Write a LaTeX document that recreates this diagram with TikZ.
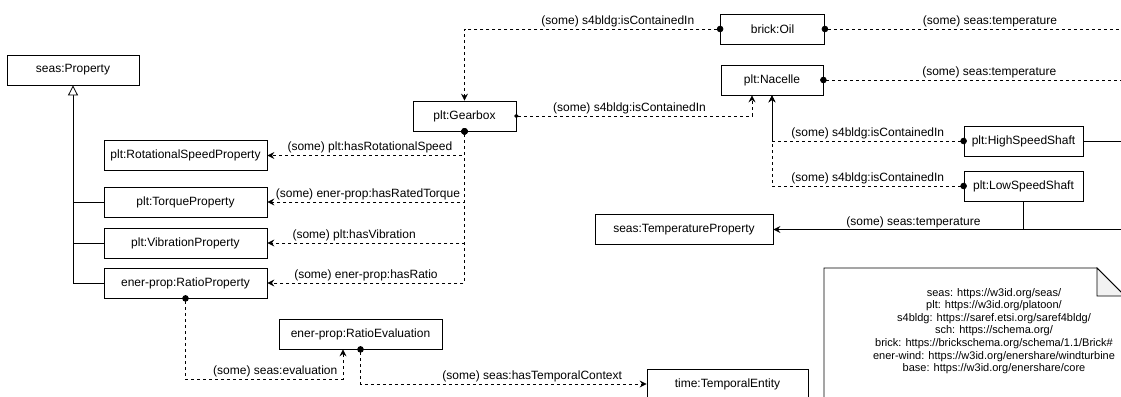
\documentclass[tikz,border=0pt]{standalone}
\usepackage{fontspec}
\setmainfont{Liberation Sans}
\usetikzlibrary{arrows.meta, calc}

\tikzset{
  cls/.style={draw, fill=white, line width=0.8pt, minimum height=30pt, inner sep=2pt},
  rel/.style={line width=0.8pt, dash pattern=on 3pt off 3pt,
    {Circle[length=6.5pt]}-{Stealth[length=7pt,width=7pt,inset=2.5pt]}, shorten <=-3.25pt},
  relout/.style={line width=0.8pt, dash pattern=on 3pt off 3pt,
    {Circle[length=6.5pt]}-, shorten <=-3.25pt},
  solidrel/.style={line width=0.8pt, -{Stealth[length=7pt,width=7pt,inset=2.5pt]}},
  isa/.style={line width=0.8pt, -{Triangle[open,length=10pt,width=10pt,fill=white]}},
  lbl/.style={above, inner sep=2pt},
}

\begin{document}
\begin{tikzpicture}[x=1pt, y=-1pt, font=\fontsize{12}{14}\selectfont]
  \useasboundingbox (0,0) rectangle (1121,396);

  % classes
  \node[cls, minimum width=132pt] (prop) at (73,70) {seas:Property};
  \node[cls, minimum width=163pt] (rsp) at (185.5,155.5) {plt:RotationalSpeedProperty};
  \node[cls, minimum width=163pt] (tqp) at (185.5,202) {plt:TorqueProperty};
  \node[cls, minimum width=163pt] (vbp) at (185.5,243) {plt:VibrationProperty};
  \node[cls, minimum width=163pt] (rtp) at (185.5,283) {ener-prop:RatioProperty};
  \node[cls, minimum width=103pt] (gbx) at (464.5,116) {plt:Gearbox};
  \node[cls, minimum width=104pt] (oil) at (772.5,29) {brick:Oil};
  \node[cls, minimum width=102pt] (nac) at (772,80) {plt:Nacelle};
  \node[cls, minimum width=119pt] (hss) at (1023.5,141) {plt:HighSpeedShaft};
  \node[cls, minimum width=119pt] (lss) at (1023.5,186) {plt:LowSpeedShaft};
  \node[cls, minimum width=178pt] (tmp) at (684,229.5) {seas:TemperatureProperty};
  \node[cls, minimum width=163pt] (rev) at (360.5,334) {ener-prop:RatioEvaluation};
  \node[cls, minimum width=161pt] (tent) at (727.5,384) {time:TemporalEntity};

  % free ends at the right border
  \coordinate (oilout) at (1125,29);
  \coordinate (nacout) at (1125,80);
  \coordinate (hssout) at (1125,141);
  \coordinate (tmpin) at (1125,229.5);

  % subclasses
  \draw[isa] (rtp.west) -| (prop.south);
  \draw[line width=0.8pt] (tqp.west) -- (tqp.west -| prop.south);
  \draw[line width=0.8pt] (vbp.west) -- (vbp.west -| prop.south);

  % gearbox properties
  \draw[rel] (gbx.south) |- (rsp.east) node[lbl, pos=0.74] {(some) plt:hasRotationalSpeed};
  \draw[rel] (gbx.south) |- (tqp.east) node[lbl, pos=0.745] {(some) ener-prop:hasRatedTorque};
  \draw[rel] (gbx.south) |- (vbp.east) node[lbl, pos=0.78] {(some) plt:hasVibration};
  \draw[rel] (gbx.south) |- (rtp.east) node[lbl, pos=0.75] {(some) ener-prop:hasRatio};

  % containment
  \draw[rel] (oil.west) -| (gbx.north) node[lbl, pos=0.2] {(some) s4bldg:isContainedIn};
  \draw[rel, {Circle[length=4pt]}-{Stealth[length=7pt,width=7pt,inset=2.5pt]}, shorten <=-2pt]
    (gbx.east) -| ([xshift=-20pt]nac.south) node[lbl, pos=0.24] {(some) s4bldg:isContainedIn};
  \draw[rel] (hss.west) -| (nac.south) node[lbl, pos=0.25] {(some) s4bldg:isContainedIn};
  \draw[rel] (lss.west) -| (nac.south) node[lbl, pos=0.25] {(some) s4bldg:isContainedIn};

  % temperatures
  \draw[relout] (oil.east) -- (oilout) node[lbl, pos=0.55] {(some) seas:temperature};
  \draw[relout] (nac.east) -- (nacout) node[lbl, pos=0.55] {(some) seas:temperature};
  \draw[line width=0.8pt] (hss.east) -- (hssout);
  \draw[solidrel] (lss.south) |- (tmp.east) node[lbl, pos=0.72, inner sep=1pt] {(some) seas:temperature};
  \draw[line width=0.8pt] (tmpin) -- (tmpin -| lss.south);

  % ratio evaluation
  \draw[rel] (rtp.south) -- ++(0,81) -| ([xshift=-17.5pt]rev.south) node[lbl, pos=0.285] {(some) seas:evaluation};
  \draw[rel] (rev.south) |- (tent.west) node[lbl, pos=0.8] {(some) seas:hasTemporalContext};

  % namespaces note
  \filldraw[fill=white, line width=0.8pt] (824,268) -- (1097,268) -- (1125,296) -- (1125,410) -- (824,410) -- cycle;
  \filldraw[fill=gray!10, line width=0.8pt] (1097,268) -- (1097,296) -- (1125,296) -- cycle;
  \node[align=center, font=\fontsize{11}{12.6}\selectfont] (ns) at (994,331)
    {seas: https://w3id.org/seas/\\
     plt: https://w3id.org/platoon/\\
     s4bldg: https://saref.etsi.org/saref4bldg/\\
     sch: https://schema.org/\\
     brick: https://brickschema.org/schema/1.1/Brick\#\\
     ener-wind: https://w3id.org/enershare/windturbine\\
     base: https://w3id.org/enershare/core};
\end{tikzpicture}
\end{document}
